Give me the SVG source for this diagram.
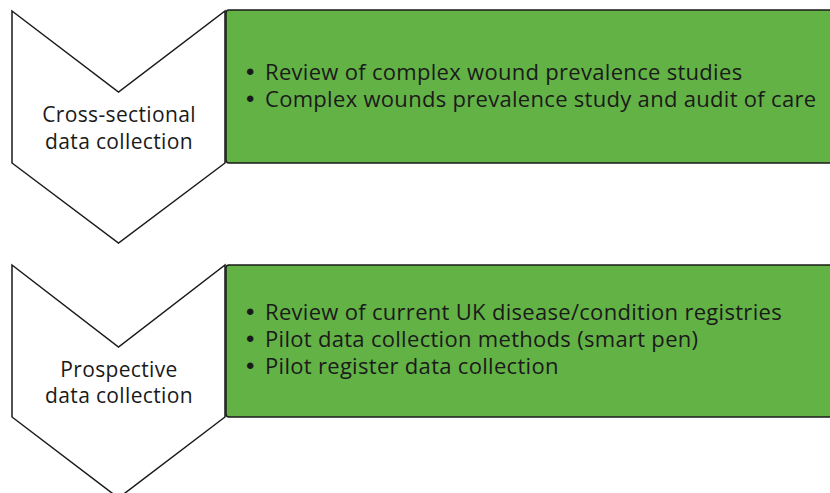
<svg xmlns="http://www.w3.org/2000/svg" width="830" height="493" viewBox="0 0 830 493">
<style>
.chev{fill:#ffffff;stroke:#1a1a1a;stroke-width:1.5;stroke-linejoin:miter}
.box{fill:#63b246;stroke:#1a1a1a;stroke-width:1.5}
.lbl{font-family:"Open Sans","Liberation Sans",sans-serif;font-size:21px;letter-spacing:0.35px;fill:#1a1a1a;text-anchor:middle}
.bul{font-family:"Open Sans","Liberation Sans",sans-serif;font-size:22px;letter-spacing:0.3px;fill:#1a1a1a}
.dot{font-family:"Liberation Sans",sans-serif;font-size:24px}
</style>
<rect width="830" height="493" fill="#ffffff"/>
<g id="connectors"></g>
<g id="stage1">
<path class="chev" d="M12,11 L118.5,92 L225,11 L225,163 L118.5,243 L12,163 Z"/>
<text class="lbl" x="119" y="122">Cross-sectional</text>
<text class="lbl" x="119" y="149">data collection</text>
</g>
<g id="box1">
<rect class="box" x="226" y="10" width="610" height="153" rx="3"/>
<text class="bul" x="246" y="80"><tspan class="dot">•</tspan><tspan x="265">Review of complex wound prevalence studies</tspan></text>
<text class="bul" x="246" y="107"><tspan class="dot">•</tspan><tspan x="265">Complex wounds prevalence study and audit of care</tspan></text>
</g>
<g id="stage2">
<path class="chev" d="M12,265 L118.5,347 L225,265 L225,417 L118.5,498 L12,417 Z"/>
<text class="lbl" x="119" y="377">Prospective</text>
<text class="lbl" x="119" y="403">data collection</text>
</g>
<g id="box2">
<rect class="box" x="226" y="265" width="610" height="152" rx="3"/>
<text class="bul" x="246" y="320"><tspan class="dot">•</tspan><tspan x="265">Review of current UK disease/condition registries</tspan></text>
<text class="bul" x="246" y="347"><tspan class="dot">•</tspan><tspan x="265">Pilot data collection methods (smart pen)</tspan></text>
<text class="bul" x="246" y="374"><tspan class="dot">•</tspan><tspan x="265">Pilot register data collection</tspan></text>
</g>
</svg>
